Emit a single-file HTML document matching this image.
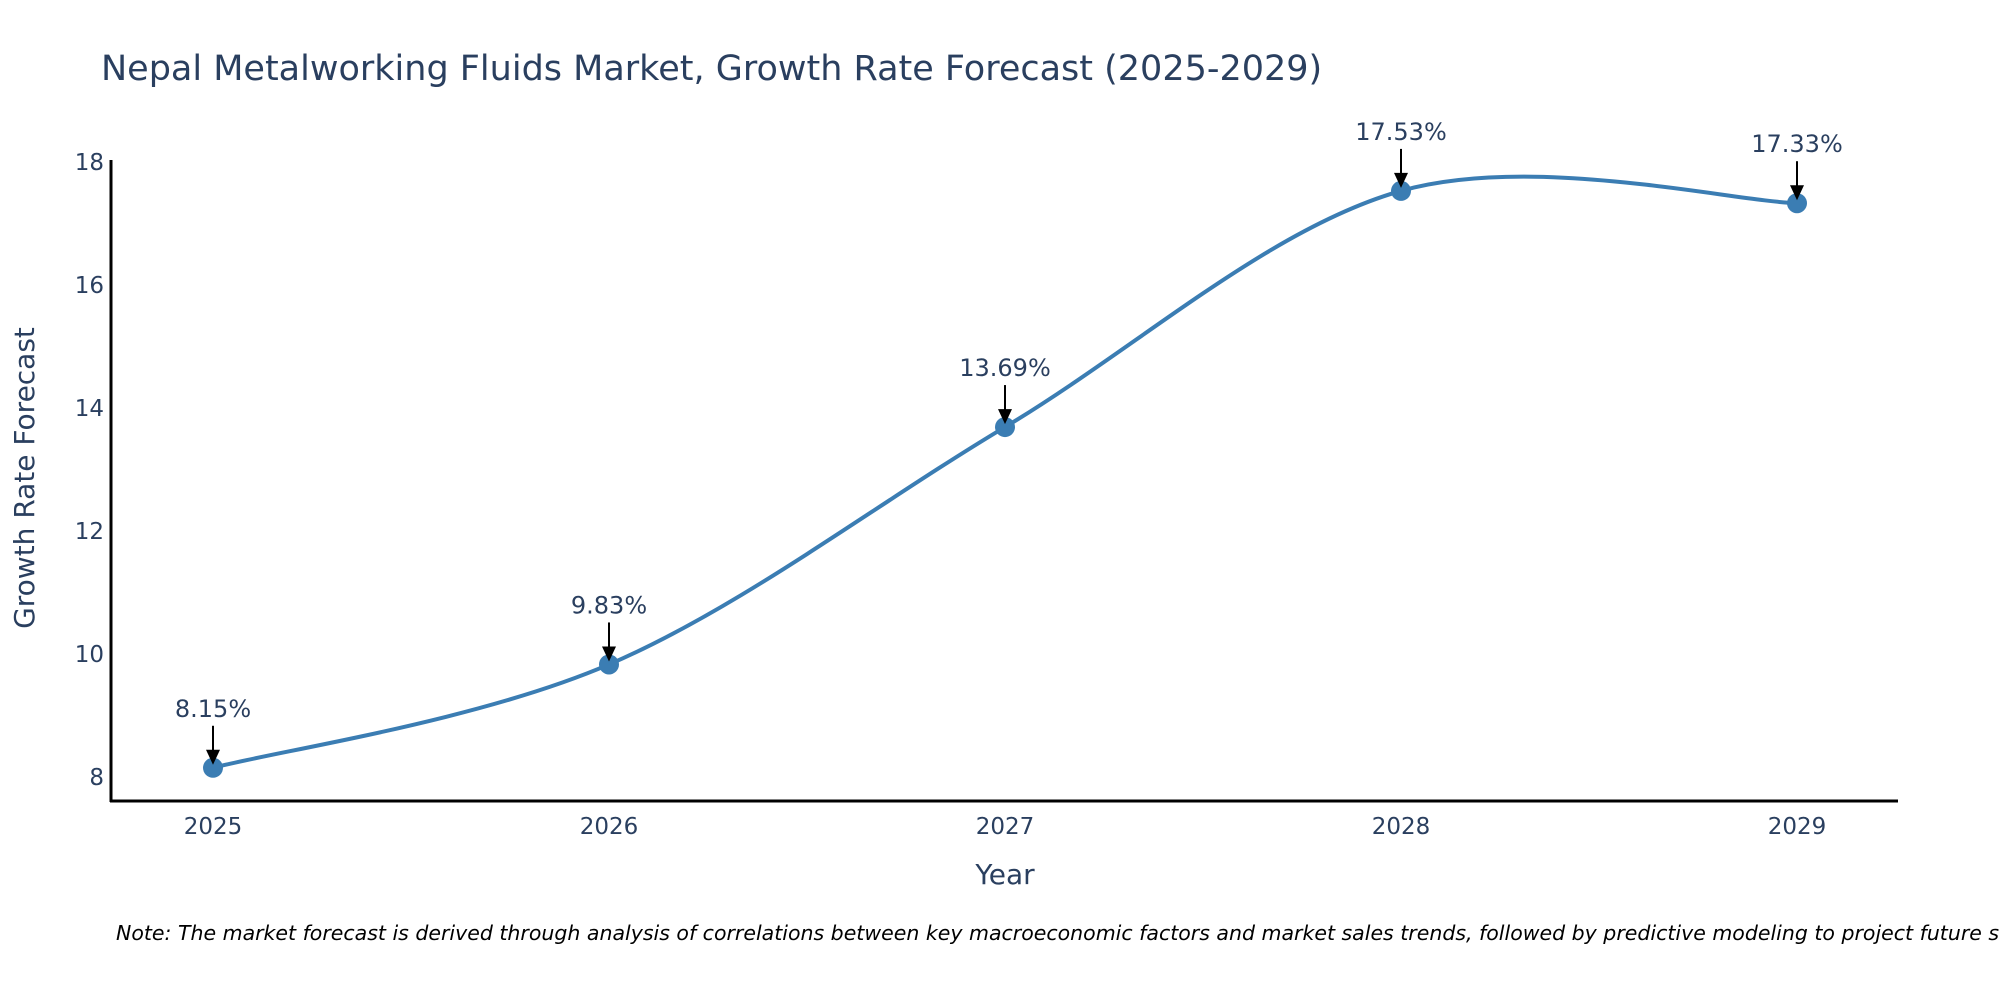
<!DOCTYPE html>
<html><head><meta charset="utf-8"><style>
html,body{margin:0;padding:0;background:#fff;}
svg{display:block;font-family:"DejaVu Sans","Liberation Sans",sans-serif;}
</style></head><body>
<svg id="chart" width="2000" height="1000" viewBox="0 0 2000 1000">
<text x="101" y="80" font-size="35" fill="#2a3f5f">Nepal Metalworking Fluids Market, Growth Rate Forecast (2025-2029)</text>
<g id="yticks"></g>
<g id="xticks"></g>
<line x1="111" y1="160" x2="111" y2="802" stroke="#000" stroke-width="3"/>
<line x1="110" y1="801" x2="1898" y2="801" stroke="#000" stroke-width="3"/>
<g id="series"></g>
<g id="annos"></g>
<text x="1005" y="884" font-size="28" fill="#2a3f5f" text-anchor="middle">Year</text>
<text x="0" y="0" font-size="28" fill="#2a3f5f" text-anchor="middle" transform="translate(34,478) rotate(-90)">Growth Rate Forecast</text>
<text x="116" y="940" font-size="20.5" font-style="italic" fill="#000">Note: The market forecast is derived through analysis of correlations between key macroeconomic factors and market sales trends, followed by predictive modeling to project future sales</text>
</svg>
<script>
const years = [2025, 2026, 2027, 2028, 2029];
const values = [8.15, 9.83, 13.69, 17.53, 17.33];
const valueLabels = ["8.15%", "9.83%", "13.69%", "17.53%", "17.33%"];
const yTickValues = [8, 10, 12, 14, 16, 18];

const NS = "http://www.w3.org/2000/svg";
function X(yr){ return 213 + (yr - 2025) * 396; }
function Y(v){ return 777 - (v - 8) * 61.5; }
function mk(tag, attrs, parent){ const e=document.createElementNS(NS,tag); for(const k in attrs) e.setAttribute(k,attrs[k]); parent.appendChild(e); return e; }

const yt = document.getElementById('yticks');
yTickValues.forEach(v=>{
  const t = mk('text',{x:104,y:Y(v)+8,'font-size':23,fill:'#2a3f5f','text-anchor':'end'},yt);
  
  
  t.textContent = v;
});
const xt = document.getElementById('xticks');
years.forEach(yr=>{
  const t = mk('text',{x:X(yr),y:834,'font-size':23,fill:'#2a3f5f','text-anchor':'middle'},xt);
  
  
  t.textContent = yr;
});

const pts = years.map((yr,i)=>[X(yr),Y(values[i])]);
let d = `M${pts[0][0]},${pts[0][1]}`;
const s = 1/6;
for(let i=0;i<pts.length-1;i++){
  const p0=pts[Math.max(i-1,0)], p1=pts[i], p2=pts[i+1], p3=pts[Math.min(i+2,pts.length-1)];
  const c1=[p1[0]+(p2[0]-p0[0])*s, p1[1]+(p2[1]-p0[1])*s];
  const c2=[p2[0]-(p3[0]-p1[0])*s, p2[1]-(p3[1]-p1[1])*s];
  d += ` C${c1[0]},${c1[1]} ${c2[0]},${c2[1]} ${p2[0]},${p2[1]}`;
}
const ser = document.getElementById('series');
const line = mk('path',{d:d,fill:'none',stroke:'#3b7db3','stroke-width':4},ser);


pts.forEach(p=>{
  const c = mk('circle',{cx:p[0],cy:p[1],r:10,fill:'#3b7db3'},ser);
  
  
});

const an = document.getElementById('annos');
pts.forEach((p,i)=>{
  const l = mk('line',{x1:p[0],y1:p[1]-42,x2:p[0],y2:p[1]-14,stroke:'#000','stroke-width':2},an);
  
  
  const h = mk('polygon',{points:`${p[0]-7},${p[1]-18} ${p[0]+7},${p[1]-18} ${p[0]},${p[1]-3}`,fill:'#000'},an);
  
  
  const t = mk('text',{x:p[0],y:p[1]-51,'font-size':24,fill:'#2a3f5f','text-anchor':'middle'},an);
  
  
  t.textContent = valueLabels[i];
});
</script>
</body></html>
